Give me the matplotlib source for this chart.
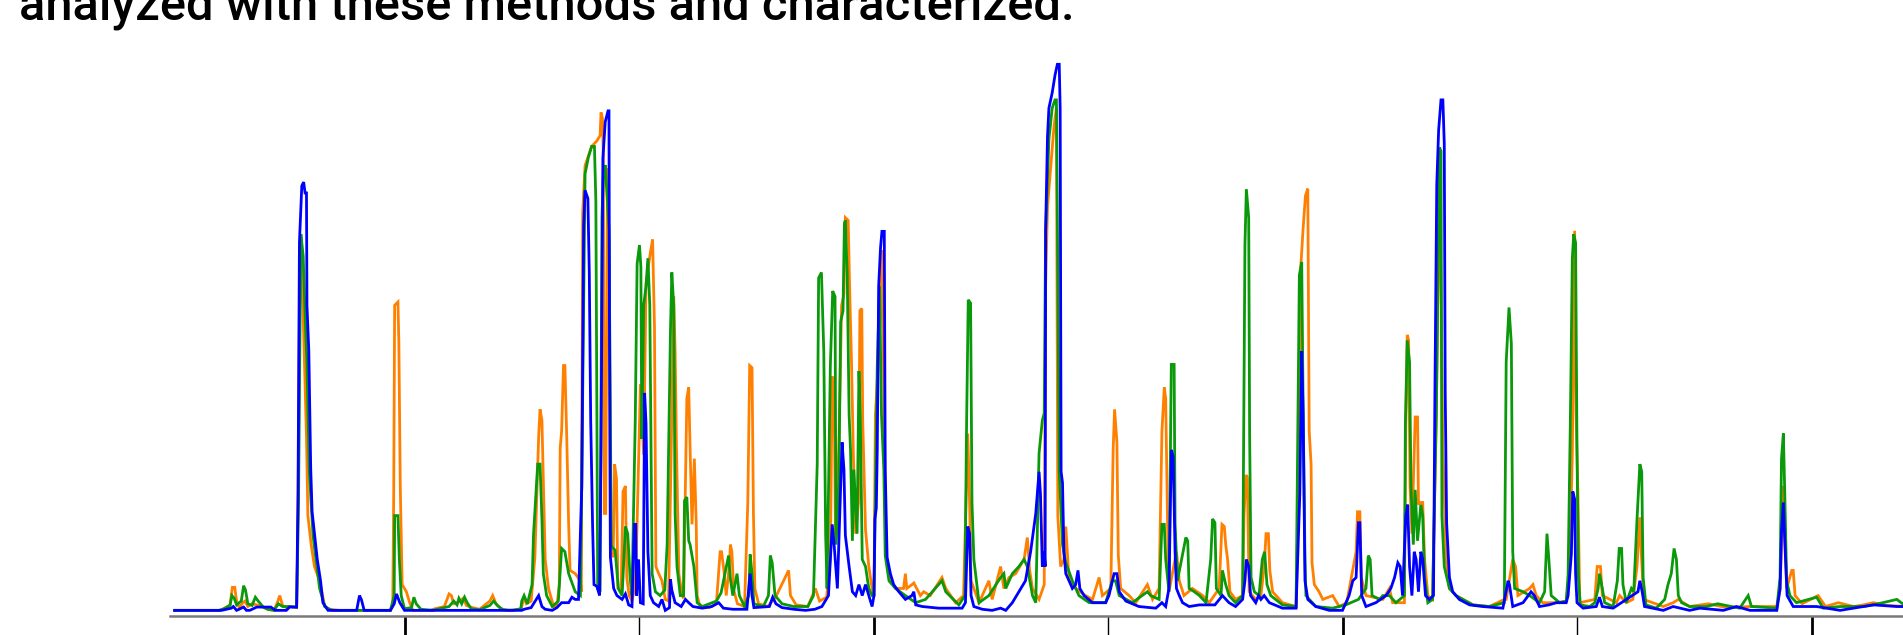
import matplotlib
matplotlib.use("Agg")
import matplotlib.pyplot as plt

# ---------------- data (time in minutes, relative intensity in %) ----------------
title_text = "analyzed with these methods and characterized."

tick_positions = [5, 10, 15, 20, 25, 30, 35]
tick_colors = ["#8a8a8a", "#000000", "#8a8a8a", "#000000", "#8a8a8a", "#000000", "#8a8a8a"]
tick_widths = [2.0, 1.0, 2.0, 1.0, 2.0, 1.0, 2.0]

orange_pts = [
    (0.10, 0.3), (1.05, 0.3), (1.15, 0.6), (1.28, 1.3), (1.33, 4.5), (1.38, 4.5), (1.42, 2.0), (1.48, 0.7),
    (1.55, 1.7), (1.60, 2.0), (1.66, 1.0), (1.75, 1.5), (1.85, 1.3), (1.95, 1.0), (2.08, 0.5), (2.22, 0.3),
    (2.30, 2.0), (2.34, 3.0), (2.40, 1.2), (2.48, 0.8), (2.55, 1.0), (2.70, 0.8), (2.73, 18), (2.76, 55),
    (2.81, 63.6), (2.87, 45), (2.91, 32), (2.94, 17.6), (3.01, 12.3), (3.08, 8.3), (3.19, 5.7), (3.30, 1.0),
    (3.40, 0.5), (3.60, 0.3), (4.70, 0.3), (4.75, 1.5), (4.77, 21.6), (4.79, 56), (4.86, 56.6), (4.88, 49),
    (4.91, 22.9), (4.95, 5.0), (5.04, 3.7), (5.11, 1.7), (5.18, 0.3), (5.55, 0.3), (5.65, 0.6), (5.85, 1.0),
    (5.95, 3.3), (6.00, 3.0), (6.05, 1.5), (6.15, 1.8), (6.25, 2.5), (6.32, 1.2), (6.45, 0.8), (6.60, 0.5),
    (6.82, 2.0), (6.88, 3.0), (6.95, 1.5), (7.05, 0.6), (7.20, 0.3), (7.48, 0.5),
    (7.50, 1.0), (7.55, 2.7), (7.60, 1.5), (7.70, 2.0), (7.78, 10), (7.86, 32), (7.89, 37), (7.93, 35),
    (7.96, 24), (8.00, 9.6), (8.07, 4.3), (8.18, 1.0), (8.25, 1.0), (8.30, 5.0), (8.32, 30), (8.35, 33),
    (8.39, 45), (8.42, 45), (8.46, 31.6), (8.50, 16), (8.53, 7.6), (8.64, 7), (8.75, 5.7), (8.77, 3.7),
    (8.78, 29.6), (8.80, 73), (8.85, 81.5), (8.99, 85), (9.10, 86), (9.17, 87), (9.19, 91.2), (9.22, 90.2),
    (9.24, 83), (9.26, 18), (9.29, 18), (9.33, 81), (9.37, 62.8), (9.39, 11), (9.45, 10), (9.48, 27),
    (9.52, 24.3), (9.55, 4.3), (9.62, 4), (9.66, 22), (9.71, 23), (9.74, 6.3), (9.79, 3.0), (9.85, 2.0),
    (9.92, 5.0), (9.96, 16.3), (10.03, 41.6), (10.10, 28.7), (10.15, 60), (10.24, 65.5), (10.29, 68),
    (10.33, 52), (10.36, 8.3), (10.42, 7), (10.49, 5.7), (10.56, 2.3), (10.63, 2.0), (10.70, 36),
    (10.74, 57.6), (10.77, 47.6), (10.80, 29.6), (10.85, 7), (10.92, 3.0), (10.95, 2.5), (11.02, 39),
    (11.06, 41), (11.09, 29.6), (11.13, 16), (11.18, 28), (11.22, 16.3), (11.24, 3.0), (11.30, 1.0),
    (11.50, 0.8), (11.65, 1.5), (11.73, 11), (11.76, 11), (11.81, 7.6), (11.86, 3.0), (11.92, 8),
    (11.95, 12.3), (11.98, 11), (12.02, 4), (12.10, 1.5), (12.25, 1.0), (12.32, 20), (12.36, 45),
    (12.41, 44.6), (12.44, 18), (12.47, 4.3), (12.55, 1.5), (12.75, 1.0), (12.93, 3.0), (13.19, 7.6),
    (13.23, 3.0), (13.35, 1.3), (13.60, 1.0), (13.76, 4.3), (13.85, 2.0), (14.00, 2.7), (14.08, 10),
    (14.12, 43), (14.16, 39.6), (14.19, 13.6), (14.26, 29.6), (14.32, 56), (14.37, 58), (14.40, 72),
    (14.46, 71.5), (14.49, 59.5), (14.53, 46), (14.57, 29), (14.62, 14.3), (14.68, 20), (14.71, 55),
    (14.75, 55.4), (14.77, 35), (14.83, 15), (14.90, 8.3), (14.97, 4.3),
    (15.01, 3.0), (15.04, 36), (15.10, 45), (15.15, 56), (15.18, 66), (15.24, 29.6), (15.27, 10.3),
    (15.36, 5.7), (15.47, 4.3), (15.64, 4.3), (15.68, 7), (15.71, 4.3), (15.82, 5.0), (15.86, 5.3),
    (16.00, 3.0), (16.07, 3.7), (16.21, 3.0), (16.46, 6.3), (16.54, 4.3), (16.75, 1.7), (16.92, 3.0),
    (16.98, 23), (17.01, 32.6), (17.05, 19.6), (17.08, 5.7), (17.25, 1.7), (17.46, 5.7), (17.53, 2.3),
    (17.71, 8.3), (17.78, 4.3), (17.89, 6.3), (18.03, 7), (18.21, 9.6), (18.28, 13.6), (18.33, 7.6),
    (18.39, 4.3), (18.53, 2.3), (18.64, 5.0), (18.67, 59.6), (18.71, 74), (18.78, 81.5), (18.85, 88.8),
    (18.90, 92), (18.93, 17.6), (18.99, 8.3), (19.06, 9.6), (19.10, 15.6), (19.17, 5.7), (19.31, 4.3),
    (19.52, 3.0), (19.67, 2.3), (19.81, 6.3), (19.88, 3.0), (20.06, 4.3), (20.11, 29.6), (20.14, 37),
    (20.19, 31), (20.22, 10.3), (20.27, 4.3), (20.45, 3.0), (20.59, 1.7), (20.84, 5.0), (20.95, 2.3),
    (21.09, 4.3), (21.15, 33), (21.20, 41), (21.23, 39), (21.27, 16), (21.30, 3.7), (21.46, 11),
    (21.52, 5.7), (21.62, 3.0), (21.80, 4.3), (22.02, 3.0), (22.16, 1.7), (22.37, 4.3), (22.43, 16),
    (22.48, 15.6), (22.51, 12.3), (22.55, 9.6), (22.60, 3.7), (22.72, 2.3), (22.87, 3.0), (22.90, 17.6),
    (22.94, 25), (22.97, 24.6), (23.01, 3.7), (23.15, 2.3), (23.26, 3.0), (23.33, 8.3), (23.37, 14.3),
    (23.42, 14.3), (23.45, 7.6), (23.51, 3.7), (23.72, 1.7), (24.01, 1.0), (24.06, 21), (24.11, 62.9),
    (24.16, 70), (24.21, 76), (24.26, 77.3), (24.29, 33), (24.33, 27), (24.35, 9), (24.40, 5),
    (24.50, 3.7), (24.58, 2.3), (24.79, 3.0), (24.93, 1.0), (25.09, 1.7), (25.29, 11), (25.32, 18.3),
    (25.37, 18.3), (25.40, 6.3), (25.50, 3.0), (25.86, 2.3), (26.00, 4.3), (26.07, 1.7), (26.32, 1.7),
    (26.35, 34), (26.38, 50.6), (26.41, 49.6), (26.44, 23), (26.48, 14.3), (26.55, 35.6), (26.60, 35.6),
    (26.62, 19.6), (26.66, 20), (26.71, 20), (26.75, 9.6), (26.82, 3.0), (26.92, 2.3), (27.00, 36),
    (27.05, 69.6), (27.08, 73), (27.14, 29.6), (27.21, 9.6), (27.28, 4.3), (27.42, 3.0), (27.78, 1.3),
    (28.13, 1.0), (28.45, 2.3), (28.49, 2.3), (28.63, 9.6), (28.69, 8.3), (28.74, 3.0), (28.99, 4.3),
    (29.06, 5.0), (29.13, 3.0), (29.27, 1.7), (29.56, 1.7), (29.77, 2.0),
    (29.84, 7), (29.90, 29), (29.95, 69.6), (29.98, 36), (30.02, 21.6), (30.06, 1.7), (30.38, 2.3),
    (30.43, 8.3), (30.50, 8.3), (30.54, 3.0), (30.84, 1.7), (30.91, 3.0), (31.05, 1.7), (31.19, 2.3),
    (31.28, 8.3), (31.34, 17.3), (31.37, 11), (31.42, 2.3), (31.84, 1.0), (32.05, 1.7), (32.16, 2.3),
    (32.40, 1.0), (32.80, 1.5), (33.20, 0.8), (33.69, 1.0), (34.26, 1.0), (34.33, 4.0), (34.40, 23),
    (34.47, 4.3), (34.58, 7.6), (34.61, 7.6), (34.65, 3.0), (34.80, 1.5), (35.14, 3.0), (35.30, 1.0),
    (35.57, 1.7), (35.90, 1.0), (36.11, 1.3), (36.32, 1.7), (36.60, 1.2), (37.02, 1.0),
]

green_pts = [
    (0.10, 0.3), (1.05, 0.3), (1.15, 0.6), (1.28, 1.2), (1.32, 3.0), (1.37, 2.5), (1.42, 1.3), (1.52, 2.0),
    (1.57, 4.8), (1.61, 4.0), (1.66, 1.5), (1.75, 1.2), (1.82, 2.7), (1.88, 2.0), (1.98, 1.0), (2.08, 0.5),
    (2.22, 0.3), (2.31, 1.5), (2.40, 1.0), (2.55, 1.0), (2.70, 0.9), (2.74, 20), (2.79, 69), (2.84, 65),
    (2.87, 57), (2.92, 45), (2.97, 25.6), (3.05, 14), (3.19, 4.3), (3.30, 1.0), (3.45, 0.3), (4.70, 0.3),
    (4.78, 3.0), (4.79, 17.6), (4.86, 17.6), (4.89, 9.6), (4.93, 3.0), (5.00, 0.6), (5.15, 0.8), (5.20, 2.7),
    (5.25, 1.5), (5.35, 0.5), (5.60, 0.3), (5.95, 1.0), (6.05, 2.0), (6.12, 1.3), (6.16, 2.5), (6.22, 1.5),
    (6.28, 2.7), (6.33, 1.8), (6.42, 0.6), (6.60, 0.4), (6.82, 1.2), (6.90, 2.0), (6.98, 1.2), (7.10, 0.4),
    (7.30, 0.3), (7.48, 0.6),
    (7.50, 2.0), (7.55, 3.0), (7.62, 1.5), (7.72, 5), (7.75, 14), (7.84, 27), (7.89, 27), (7.93, 17),
    (7.96, 7), (8.03, 3.0), (8.15, 1.0), (8.28, 2.0), (8.35, 11.6), (8.42, 11), (8.50, 7), (8.64, 3.7),
    (8.75, 3.0), (8.78, 24.3), (8.85, 80), (8.92, 83), (8.99, 85), (9.05, 85), (9.08, 75), (9.12, 4.3),
    (9.17, 3.7), (9.21, 72), (9.24, 80), (9.28, 81.6), (9.36, 70), (9.41, 12), (9.49, 11.3), (9.56, 4.3),
    (9.64, 3.0), (9.71, 15.6), (9.76, 14.3), (9.81, 6.3), (9.85, 3.0), (9.92, 35), (9.96, 63.6),
    (10.01, 67), (10.04, 63), (10.06, 31.6), (10.10, 56), (10.15, 59.5), (10.19, 64.6), (10.23, 56),
    (10.28, 7), (10.35, 3.7), (10.45, 3.0), (10.55, 4.0), (10.60, 12.3), (10.67, 51), (10.70, 62),
    (10.74, 56), (10.77, 18), (10.81, 8.3), (10.88, 3.0), (10.95, 3.0), (10.97, 20.3), (11.02, 21),
    (11.06, 13), (11.09, 12.3), (11.17, 8.3), (11.24, 1.7), (11.35, 1.0), (11.50, 1.5), (11.65, 2.0),
    (11.75, 3.5), (11.91, 10.3), (11.95, 6.0), (12.00, 3.0), (12.09, 7), (12.14, 3.0), (12.25, 1.0),
    (12.34, 3.0), (12.37, 10.5), (12.41, 7), (12.45, 1.5), (12.65, 1.0), (12.76, 3.0), (12.80, 10.3),
    (12.84, 9.0), (12.90, 3.0), (13.05, 1.5), (13.30, 1.0), (13.60, 1.0), (13.72, 3.0), (13.80, 27),
    (13.83, 61), (13.89, 62), (13.94, 47.6), (13.98, 14), (14.01, 4.3), (14.08, 45), (14.13, 58.6),
    (14.18, 57.6), (14.20, 12.3), (14.26, 23), (14.30, 53), (14.35, 55), (14.38, 71), (14.40, 71.5),
    (14.44, 61.5), (14.48, 36), (14.51, 29.6), (14.55, 13), (14.58, 26), (14.65, 14.3), (14.69, 44),
    (14.72, 35), (14.76, 9.6), (14.83, 8.3), (14.90, 4.3), (14.97, 3.0),
    (15.01, 3.0), (15.08, 45), (15.13, 59.5), (15.17, 36), (15.22, 26), (15.25, 10.3), (15.33, 5.7),
    (15.47, 4.3), (15.68, 3.0), (15.90, 1.7), (16.11, 2.3), (16.46, 5.7), (16.54, 3.7), (16.82, 1.3),
    (16.95, 3.0), (16.98, 31), (17.02, 57), (17.07, 56.4), (17.10, 20), (17.14, 9.6), (17.25, 1.7),
    (17.46, 3.0), (17.71, 6.3), (17.78, 7), (17.82, 4.3), (17.96, 7), (18.10, 8.3), (18.21, 9.6),
    (18.28, 8.3), (18.39, 3.0), (18.46, 1.7), (18.53, 29), (18.60, 35), (18.64, 36.3), (18.67, 69.6),
    (18.74, 86.3), (18.81, 92), (18.87, 93.5), (18.90, 93.5), (18.92, 72.9), (18.96, 25.6), (19.03, 12.3),
    (19.10, 9), (19.24, 5.7), (19.38, 3.0), (19.60, 1.7), (19.95, 1.7), (20.09, 5.7), (20.16, 5.7),
    (20.24, 3.0), (20.52, 1.7), (20.84, 3.7), (20.91, 3.0), (21.09, 2.3), (21.15, 16), (21.20, 16),
    (21.23, 9.6), (21.30, 3.7), (21.35, 45.2), (21.41, 45.2), (21.43, 16.3), (21.48, 5.7), (21.66, 13.6),
    (21.70, 13), (21.73, 4.3), (21.84, 3.7), (21.95, 3.0), (22.09, 1.7), (22.19, 9.6), (22.23, 17),
    (22.28, 16.3), (22.31, 4.3), (22.41, 3.0),
    (22.44, 7.6), (22.51, 5), (22.58, 3.0), (22.72, 1.7), (22.87, 3.0), (22.89, 29), (22.92, 67),
    (22.95, 77.2), (23.00, 72), (23.02, 32.3), (23.05, 6.3), (23.12, 3.7), (23.22, 3.0), (23.29, 9.6),
    (23.34, 11), (23.39, 5), (23.47, 3.0), (23.72, 1.3), (24.01, 1.0), (24.08, 61.5), (24.13, 63.9),
    (24.16, 38), (24.20, 9.6), (24.22, 3.0), (24.43, 1.0), (24.79, 0.7), (25.07, 1.3), (25.34, 2.3),
    (25.50, 4.3), (25.55, 10.3), (25.59, 9.6), (25.63, 3.0), (25.79, 2.3), (25.86, 3.0), (26.00, 3.0),
    (26.14, 1.7), (26.32, 3.0), (26.34, 34), (26.38, 49.6), (26.43, 45.6), (26.46, 23), (26.51, 12.3),
    (26.55, 22.3), (26.60, 13), (26.67, 19.6), (26.71, 17.6), (26.75, 6.3), (26.82, 1.7), (26.92, 2.3),
    (27.00, 36), (27.07, 84.8), (27.10, 84.1), (27.12, 17.6), (27.17, 8.3), (27.28, 4.3), (27.42, 3.0),
    (27.78, 1.3), (28.13, 1.0), (28.45, 1.7), (28.49, 45.6), (28.55, 55.6), (28.60, 49), (28.63, 11),
    (28.67, 4.3), (28.85, 3.7), (28.99, 3.0), (29.20, 1.7), (29.31, 3.7), (29.36, 14.3), (29.40, 9.6),
    (29.45, 3.0), (29.63, 1.7), (29.77, 2.0),
    (29.81, 6.7), (29.86, 36), (29.90, 64.5), (29.93, 69), (29.97, 67.4), (30.00, 29.6), (30.03, 6.3),
    (30.07, 1.3), (30.27, 1.0), (30.38, 1.7), (30.45, 4.3), (30.48, 7), (30.54, 4.3), (30.59, 1.7),
    (30.77, 1.0), (30.86, 5.7), (30.90, 11.6), (30.95, 11.6), (30.98, 5), (31.05, 1.7), (31.16, 4.3),
    (31.21, 3.7), (31.28, 17), (31.34, 27), (31.38, 25.6), (31.41, 6.3), (31.47, 1.3), (31.69, 0.7),
    (31.87, 2.3), (31.94, 5), (32.01, 7), (32.07, 11.6), (32.12, 9.6), (32.16, 3.0), (32.23, 1.7),
    (32.40, 1.0), (32.76, 1.0), (33.00, 1.5), (33.47, 0.7), (33.65, 3.0), (33.72, 1.0), (34.26, 0.7),
    (34.33, 6.3), (34.36, 28), (34.40, 32.6), (34.43, 21.6), (34.47, 5.7), (34.54, 3.0), (34.68, 1.7),
    (35.11, 2.7), (35.25, 0.7), (35.61, 1.0), (36.11, 1.0), (36.32, 1.3), (36.82, 2.3), (37.02, 1.0),
]

blue_pts = [
    (0.10, 0.3), (1.10, 0.3), (1.31, 0.7), (1.35, 1.0), (1.42, 0.3), (1.57, 0.9), (1.63, 0.3), (1.70, 0.3),
    (1.85, 0.9), (2.15, 0.9), (2.25, 0.3), (2.48, 0.3), (2.55, 0.9), (2.70, 0.9), (2.73, 22), (2.76, 67.5),
    (2.81, 77.8), (2.85, 78.5), (2.88, 76.5), (2.91, 76.5), (2.92, 56), (2.96, 47.6), (3.00, 26.3),
    (3.03, 18.3), (3.08, 14.3), (3.14, 9.6), (3.21, 5.7), (3.26, 1.7), (3.37, 0.3), (3.98, 0.3), (4.04, 3.0),
    (4.08, 2.3), (4.14, 0.3), (4.70, 0.3), (4.78, 1.5), (4.83, 3.3), (4.90, 1.7), (5.00, 0.3), (7.50, 0.3),
    (7.55, 0.5), (7.70, 0.8), (7.86, 3.0), (7.93, 1.0), (8.00, 0.5), (8.15, 0.3), (8.25, 0.8), (8.35, 1.7),
    (8.50, 1.7), (8.57, 2.7), (8.64, 2.3), (8.71, 2.3), (8.78, 23), (8.82, 70.6), (8.85, 77), (8.91, 75.5),
    (8.94, 62), (8.97, 35), (9.01, 16), (9.04, 5), (9.10, 4.7), (9.16, 3), (9.19, 30), (9.23, 82.8),
    (9.28, 89.5), (9.34, 91.5), (9.36, 91.5), (9.37, 54), (9.39, 10), (9.46, 4.3), (9.53, 3.0), (9.64, 2.3),
    (9.71, 3.3), (9.78, 1.3), (9.85, 1.0), (9.90, 16), (9.93, 16), (9.95, 3.0), (9.99, 9.6), (10.03, 1.7),
    (10.09, 1.5), (10.12, 40), (10.15, 34.4), (10.19, 11), (10.24, 3.0), (10.31, 1.7), (10.42, 1.0),
    (10.49, 2.3), (10.56, 0.3), (10.65, 0.8), (10.67, 6.0), (10.70, 4.0), (10.77, 1.7), (10.90, 1.0),
    (10.99, 2.3), (11.06, 1.7), (11.15, 1.0), (11.35, 0.7), (11.55, 1.0), (11.70, 1.7), (11.80, 0.7),
    (12.00, 0.5), (12.30, 0.5), (12.37, 7.0), (12.41, 3.0), (12.45, 0.8), (12.78, 1.0), (12.85, 2.7),
    (12.92, 1.5), (13.05, 0.8), (13.30, 0.5), (13.55, 0.3), (13.75, 0.5), (13.90, 1.0), (14.04, 3.0),
    (14.12, 16), (14.16, 12.3), (14.23, 4.3), (14.30, 23), (14.33, 31), (14.37, 26), (14.40, 14),
    (14.48, 8.3), (14.55, 3.7), (14.62, 3.0), (14.69, 5.0), (14.76, 3.0), (14.83, 5.0), (14.90, 3.0),
    (14.97, 1.0),
    (15.01, 3.0), (15.03, 17), (15.06, 19), (15.08, 29.6), (15.11, 59.5), (15.15, 66.5), (15.18, 69.5),
    (15.23, 69.5), (15.25, 26), (15.29, 10), (15.36, 7), (15.43, 5), (15.54, 3.7), (15.68, 2.3),
    (15.82, 3.0), (15.86, 3.7), (15.90, 1.3), (16.04, 1.0), (16.39, 0.7), (16.89, 0.7), (16.96, 1.7),
    (17.01, 15.6), (17.05, 14.3), (17.08, 3.0), (17.14, 1.0), (17.32, 0.5), (17.53, 0.3), (17.71, 0.7),
    (17.82, 0.3), (17.96, 1.7), (18.10, 3.7), (18.24, 5.7), (18.35, 11), (18.46, 18), (18.53, 25.6),
    (18.56, 21.6), (18.60, 8.3), (18.64, 11), (18.66, 8.3), (18.67, 69.6), (18.71, 86.8), (18.74, 92),
    (18.81, 94.8), (18.87, 98), (18.92, 100), (18.96, 100), (18.98, 92), (19.00, 25.6), (19.03, 23.6),
    (19.06, 11), (19.10, 7), (19.17, 5.7), (19.24, 4.3), (19.31, 5.0), (19.36, 7.6), (19.40, 4.3),
    (19.49, 3.0), (19.67, 1.7), (19.95, 1.7), (20.02, 3.0), (20.13, 7), (20.19, 7), (20.24, 3.7),
    (20.38, 2.0), (20.66, 1.0), (21.02, 0.7), (21.15, 1.7), (21.23, 1.0), (21.30, 4.3), (21.35, 29.6),
    (21.39, 28.3), (21.43, 11), (21.46, 4.3), (21.52, 3.0), (21.59, 1.7), (21.73, 1.0), (21.95, 1.3),
    (22.09, 1.3), (22.28, 1.3),
    (22.44, 3.0), (22.58, 1.7), (22.72, 1.0), (22.87, 2.3), (22.92, 5.7), (22.95, 9.6), (23.00, 8.3),
    (23.04, 3.0), (23.15, 1.7), (23.21, 3.0), (23.26, 2.3), (23.33, 3.0), (23.44, 1.7), (23.72, 0.7),
    (24.01, 0.7), (24.09, 21.6), (24.13, 47.6), (24.16, 36.3), (24.20, 5.7), (24.26, 2.3), (24.43, 1.0),
    (24.72, 0.3), (25.00, 0.3), (25.14, 3.0), (25.22, 5.7), (25.29, 6.3), (25.34, 16.3), (25.37, 16.3),
    (25.41, 3.0), (25.50, 1.0), (25.71, 1.7), (25.93, 3.0), (26.03, 4.3), (26.11, 6.3), (26.18, 9),
    (26.23, 8.3), (26.28, 3.0), (26.35, 17.6), (26.39, 19.6), (26.43, 8.3), (26.48, 3.0), (26.53, 11),
    (26.57, 9.6), (26.62, 3.7), (26.67, 11), (26.71, 9.6), (26.77, 3.0), (26.85, 2.3), (26.94, 3.0),
    (26.97, 39.6), (27.01, 78), (27.05, 88), (27.10, 93.5), (27.14, 93.5), (27.17, 85.5), (27.19, 40.3),
    (27.22, 16.3), (27.28, 6.3), (27.35, 3.7), (27.49, 2.3), (27.71, 1.3), (27.99, 1.0), (28.42, 0.7),
    (28.53, 5.7), (28.56, 5), (28.63, 1.0), (28.85, 1.7), (29.02, 3.7), (29.09, 3.0), (29.20, 1.0),
    (29.40, 1.3), (29.56, 1.7), (29.77, 1.7),
    (29.81, 3.0), (29.88, 10.6), (29.91, 22), (29.95, 20.6), (29.97, 7), (30.00, 1.7), (30.13, 0.7),
    (30.41, 1.0), (30.48, 2.7), (30.54, 1.0), (30.77, 0.7), (31.30, 3.7), (31.34, 5.7), (31.39, 3.7),
    (31.44, 1.0), (31.84, 0.3), (32.05, 1.0), (32.40, 0.3), (32.62, 0.7), (33.12, 0.3), (33.40, 1.0),
    (33.69, 0.3), (34.26, 0.3), (34.33, 4.3), (34.36, 14.6), (34.40, 20), (34.43, 12.9), (34.48, 3.0),
    (34.61, 1.0), (35.11, 1.0), (35.61, 0.3), (36.11, 1.0), (36.32, 1.3), (36.82, 1.0), (37.02, 1.0),
]

series = [
    ("orange", orange_pts, "#ff8000"),
    ("green", green_pts, "#0a990a"),
    ("blue", blue_pts, "#0000ff"),
]

# ---------------- figure ----------------
W, H = 1903, 635
fig = plt.figure(figsize=(W / 100, H / 100), dpi=100)
fig.patch.set_facecolor("white")

left_px = 170.0
px_per_min = 46.9
px_per_unit = 5.477
spine_px = 615.5   # from top
top_px = 50.0

ax = fig.add_axes([left_px / W, (H - spine_px) / H, (W - left_px) / W, (spine_px - top_px) / H])
ax.set_xlim(0, (W - left_px) / px_per_min)
ybot = -(spine_px - 612.0) / px_per_unit
ax.set_ylim(ybot, ybot + (spine_px - top_px) / px_per_unit)

for name, pts, col in series:
    t = [p[0] for p in pts]
    v = [p[1] for p in pts]
    ax.plot(t, v, color=col, lw=2.0, solid_joinstyle="miter", clip_on=True)

for s in ("left", "right", "top"):
    ax.spines[s].set_visible(False)
ax.spines["bottom"].set_color("#7a7a7a")
ax.spines["bottom"].set_linewidth(1.8)
ax.set_yticks([])
ax.set_xticks(tick_positions)
ax.tick_params(axis="x", direction="out", length=16, labelbottom=False)
for tk, c, w in zip(ax.xaxis.get_major_ticks(), tick_colors, tick_widths):
    tk.tick1line.set_color(c)
    tk.tick1line.set_markeredgewidth(w)
ax.patch.set_visible(False)

# title (its upper part is clipped by the top edge, as in the original)
txt = fig.text(19 / W, 1 - 20 / H, title_text, fontsize=30, fontweight="medium",
               family=["Roboto", "DejaVu Sans"], color="black", ha="left", va="baseline")
fig.canvas.draw()
bb = txt.get_window_extent()
target_w = 1052.0
txt.set_fontsize(30 * target_w / bb.width)

fig.savefig("out.png", dpi=100, facecolor="white")
